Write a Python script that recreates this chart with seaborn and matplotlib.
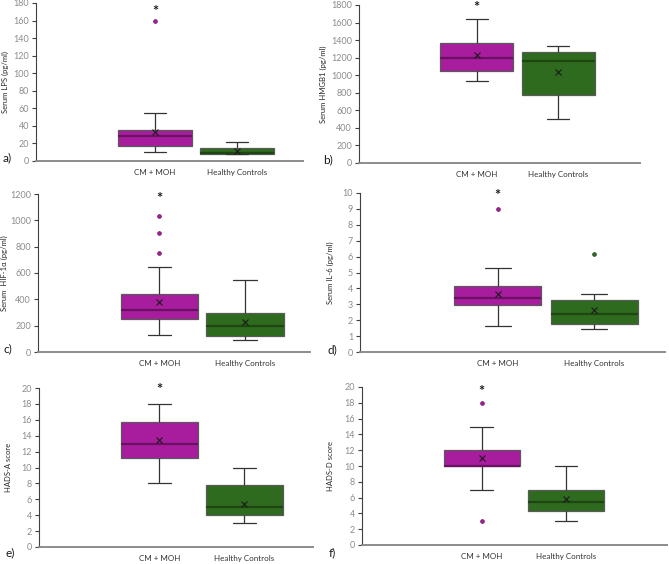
import numpy as np
import pandas as pd
import matplotlib
matplotlib.use('Agg')
import matplotlib.pyplot as plt
import seaborn as sns

groups = ['CM + MOH', 'Healthy Controls']

# a) serum LPS (pg/ml)
lps_cm = [10, 10, 11, 12, 17, 17, 18, 22.5, 28, 28, 29, 30, 35, 35, 36, 55, 159]
lps_hc = [8.3, 8.3, 8.3, 8.8, 9.5, 11, 14.5, 15.1, 21.5]

# b) serum HMGB1 (pg/ml)
hmgb1_cm = [935, 1000, 1050, 1120, 1195, 1280, 1370, 1440, 1635]
hmgb1_hc = [505, 680, 775, 1100, 1160, 1200, 1260, 1300, 1335]

# c) serum HIF-1a (pg/ml)
hif_cm = [126, 126, 130, 140, 150, 252, 252, 255, 260, 270, 318,
          320, 330, 345, 360, 438, 544, 648, 755, 905, 1035]
hif_hc = [90, 100, 120, 160, 200, 250, 295, 305, 550]

# d) serum IL-6 (pg/ml)
il6_cm = [1.63, 1.63, 2.2, 2.93, 2.95, 3.0, 3.41, 3.41, 3.5, 4.17, 4.21, 5.28, 9.0]
il6_hc = [1.43, 1.5, 1.6, 1.77, 1.9, 2.1, 2.4, 2.5, 2.8, 3.28, 3.58, 3.66, 6.19]

# e) HADS-A score
hadsa_cm = [8, 10.5, 11.25, 12.5, 13, 15.25, 15.75, 17.25, 18]
hadsa_hc = [3, 3, 3, 4, 4, 4, 5, 5, 5.6, 7.75, 7.75, 8.75, 10]

# f) HADS-D score
hadsd_cm = [3, 7, 9.1, 10, 10, 10, 10, 11.5, 12, 12, 15, 15, 18]
hadsd_hc = [3, 3.5, 4.3, 5, 5.5, 6.04, 7, 7.5, 10]

colors = ['#A81C9E', '#2E6B1E']
dark = ['#6A1262', '#1D4613']

sns.set_theme(style='white')
plt.rcParams['font.family'] = ['Lato', 'DejaVu Sans']

fig = plt.figure(figsize=(6.69, 5.64), dpi=100)


def draw_panel(box, cm, hc, ymax, ystep, ylabel, label_x, xlim, star_y, tag, tag_xy):
    x0, y0, x1, y1 = box
    ax = fig.add_axes([x0 / 669, 1 - y1 / 564, (x1 - x0) / 669, (y1 - y0) / 564])
    df = pd.DataFrame({'group': [groups[0]] * len(cm) + [groups[1]] * len(hc),
                       'value': cm + hc})
    for g, c, d in zip(groups, colors, dark):
        sns.boxplot(data=df[df['group'] == g], x='group', y='value', order=groups,
                    color=c, saturation=1, width=0.9, linecolor='#5a5a5a', linewidth=0.9,
                    showmeans=True, capwidths=0.27,
                    meanprops=dict(marker='x', markeredgecolor='#1a1a1a',
                                   markersize=5, markeredgewidth=0.8),
                    medianprops=dict(color=d, linewidth=1.6),
                    whiskerprops=dict(color='#333333', linewidth=0.9),
                    capprops=dict(color='#333333', linewidth=0.9),
                    flierprops=dict(marker='o', markerfacecolor=c, markeredgecolor=d,
                                    markersize=2.7, markeredgewidth=0.5),
                    ax=ax)
    ax.set_xlim(*xlim)
    ax.set_ylim(0, ymax)
    ax.set_yticks(np.arange(0, ymax + ystep / 2, ystep))
    ax.set_xlabel('')
    ax.set_ylabel(ylabel, fontsize=5.5, color='#262626')
    ax.yaxis.set_label_coords(label_x, 0.5)
    ax.tick_params(axis='y', left=True, length=3, width=0.8, color='#404040',
                   labelsize=6.5, labelcolor='#8c8c8c', pad=2)
    ax.tick_params(axis='x', bottom=False, length=0, labelsize=5.8,
                   labelcolor='#333333', pad=6)
    sns.despine(ax=ax)
    ax.spines['left'].set_color('#404040')
    ax.spines['left'].set_linewidth(0.8)
    ax.spines['bottom'].set_color('#8c8c8c')
    ax.spines['bottom'].set_linewidth(1.4)
    ax.text(0, star_y, '*', ha='center', va='center', fontsize=10.5,
            fontweight='bold', color='#1a1a1a', clip_on=False)
    fig.text(tag_xy[0] / 669, 1 - tag_xy[1] / 564, tag, ha='left', va='center',
             fontsize=8.5, color='#1a1a1a')
    return ax


draw_panel((36, 3, 303, 161), lps_cm, lps_hc, 180, 20, 'Serum LPS (pg/ml)',
           -0.101, (-1.451, 1.805), 170, 'a)', (3, 158))
draw_panel((359, 5, 640, 163), hmgb1_cm, hmgb1_hc, 1800, 200, 'Serum HMGB1 (pg/ml)',
           -0.114, (-1.442, 2.001), 1770, 'b)', (323, 160))
draw_panel((38, 194, 310, 352), hif_cm, hif_hc, 1200, 200, 'Serum  HIF-1\u03b1 (pg/ml)',
           -0.109, (-1.415, 1.758), 1165, 'c)', (3, 349))
draw_panel((360, 193, 665, 352), il6_cm, il6_hc, 10, 1, 'Serum IL-6 (pg/ml)',
           -0.085, (-1.425, 1.732), 9.8, 'd)', (327, 350))
draw_panel((39, 388, 313, 547), hadsa_cm, hadsa_hc, 20, 2, 'HADS-A score',
           -0.10, (-1.415, 1.808), 19.8, 'e)', (5, 553))
draw_panel((362, 387, 667, 545), hadsd_cm, hadsd_hc, 20, 2, 'HADS-D score',
           -0.092, (-1.42, 2.198), 19.4, 'f)', (329, 553))

fig.savefig('out.png', dpi=100)
